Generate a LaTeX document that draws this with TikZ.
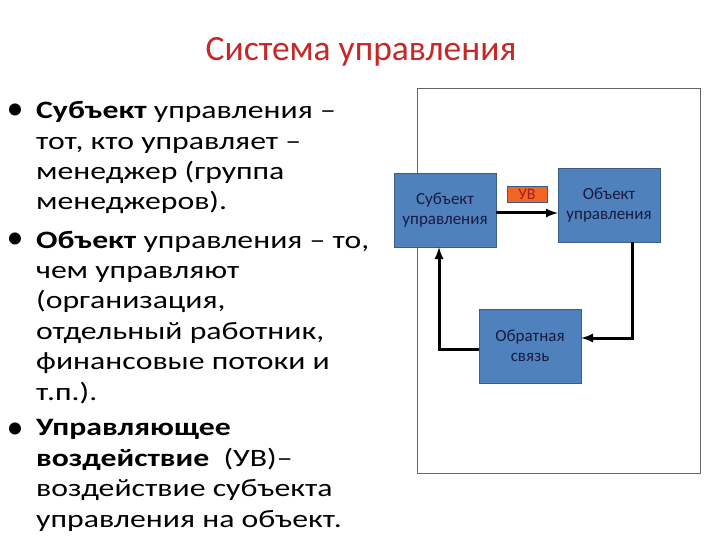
\documentclass[tikz,border=0pt]{standalone}
\usepackage{fontspec}
\setmainfont{Carlito}
\newfontfamily\widefont{Carlito}[FakeStretch=1.27]
\usetikzlibrary{positioning}
\definecolor{boxblue}{HTML}{4F81BD}
\definecolor{boxedge}{HTML}{385D8A}
\definecolor{boxtext}{HTML}{1A1A40}
\definecolor{titlered}{HTML}{C62828}
\definecolor{uvorange}{HTML}{F26522}
\tikzset{
	blok/.style={draw=boxedge, fill=boxblue, text=boxtext, minimum width=102pt, minimum height=74pt, align=center, font=\fontsize{17}{20}\selectfont},
	flow/.style={line width=3pt, -latex},
	bultext/.style={anchor=base west, align=left, inner sep=0pt, font=\widefont\fontsize{25}{30.4}\selectfont},
	bulmark/.style={anchor=base, inner sep=0pt, font=\fontsize{34}{34}\selectfont}
}

\begin{document}
\begin{tikzpicture}[x=1pt, y=-1pt]
		\useasboundingbox (0,0) rectangle (720,540);
		\fill[white] (0,0) rectangle (720,540);
		\node[anchor=base, text=titlered, font=\fontsize{35.5}{40}\selectfont] (title) at (361,61) {Система управления};
		% left column (anchored at the last line)
		\node[bultext] (b1) at (36,210) {\textbf{Субъект} управления –\\тот, кто управляет –\\менеджер (группа\\менеджеров).};
		\node[bultext] (b2) at (36,400) {\textbf{Объект} управления – то,\\чем управляют\\(организация,\\отдельный работник,\\финансовые потоки и\\т.п.).};
		\node[bultext] (b3) at (36,527) {\textbf{Управляющее}\\\textbf{воздействие}\ \ (УВ)–\\воздействие субъекта\\управления на объект.};
		\node[bulmark] (m1) at (15,120) {•};
		\node[bulmark] (m2) at (15,248) {•};
		\node[bulmark] (m3) at (15,438) {•};
		% right frame and scheme
		\draw[gray!80!black] (417,88) rectangle (700,473);
		\node[blok] (subj) at (445,210) {Субъект\\управления};
		\node[blok] (obj) at (609,205) {Объект\\управления};
		\node[blok] (fb) at (530,346) {Обратная\\связь};
		\node[draw=boxedge, fill=uvorange, text=titlered!80!black, minimum width=40pt, minimum height=16pt, inner sep=0pt, font=\fontsize{16}{16}\selectfont] (uv) at (527,194) {УВ};
		\draw[flow] ([yshift=-3pt]subj.east) -- ([yshift=-3pt]subj.east -| obj.west);
		\draw[flow] ([xshift=23pt]obj.south) |- ([yshift=8pt]fb.east);
		\draw[flow] ([yshift=-3pt]fb.west) -| ([xshift=-6pt]subj.south);
	\end{tikzpicture}
\end{document}
